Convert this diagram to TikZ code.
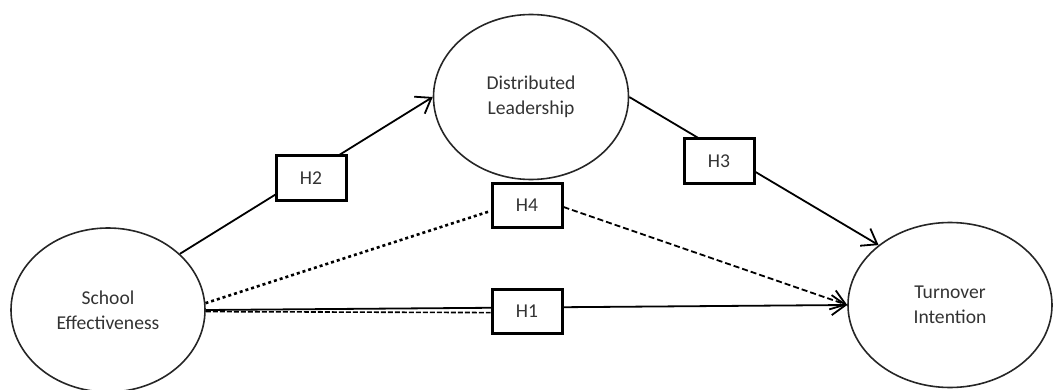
\documentclass[tikz,border=0pt]{standalone}
\usepackage{fontspec}
\setmainfont{Carlito}
\usetikzlibrary{shapes.geometric,arrows.meta}
\pgfdeclarelayer{bg}
\pgfsetlayers{bg,main}
\tikzset{
  latent/.style={draw=black!85,ellipse,line width=0.8pt,inner sep=0pt,align=center,
    text=black!80,font=\fontsize{9.8}{12.5}\selectfont},
  hyp/.style={draw,fill=white,line width=1.5pt,minimum width=35pt,minimum height=22pt,
    inner sep=0pt,text=black!80,font=\fontsize{9.8}{10}\selectfont},
  link/.style={line width=0.9pt,-{Straight Barb[length=7pt,width=10pt]}}
}
\begin{document}
\begin{tikzpicture}[x=0.5pt,y=-0.5pt]
\useasboundingbox (0,0) rectangle (1055,390);
\node[latent,minimum width=97pt,minimum height=82pt] (school) at (108,310) {School\\Effectiveness};
\node[latent,minimum width=97.5pt,minimum height=82.5pt] (dist) at (531,97) {Distributed\\Leadership};
\node[latent,minimum width=102pt,minimum height=82.5pt] (turn) at (950,305) {Turnover\\Intention};
\node[hyp] (h2) at (311,178) {H2};
\node[hyp] (h3) at (719,161) {H3};
\node[hyp] (h4) at (527,205) {H4};
\node[hyp] (h1) at (527,311) {H1};
\begin{pgfonlayer}{bg}
\draw[link] (school.38) -- (dist.west);
\draw[link] (dist.east) -- (turn.140);
\draw[link] (school.east) -- (turn.west);
\draw[line width=0.8pt,dash pattern=on 2.5pt off 1pt] ([yshift=-0.8pt]school.east) -- ([yshift=-0.8pt]h1.west);
\draw[line width=1.3pt,dash pattern=on 1.5pt off 1.5pt] (school.4) -- ([yshift=-3pt]h4.west);
\draw[link,dash pattern=on 3pt off 1.5pt] ([yshift=-1pt]h4.east) -- (turn.west);
\end{pgfonlayer}
\end{tikzpicture}
\end{document}
